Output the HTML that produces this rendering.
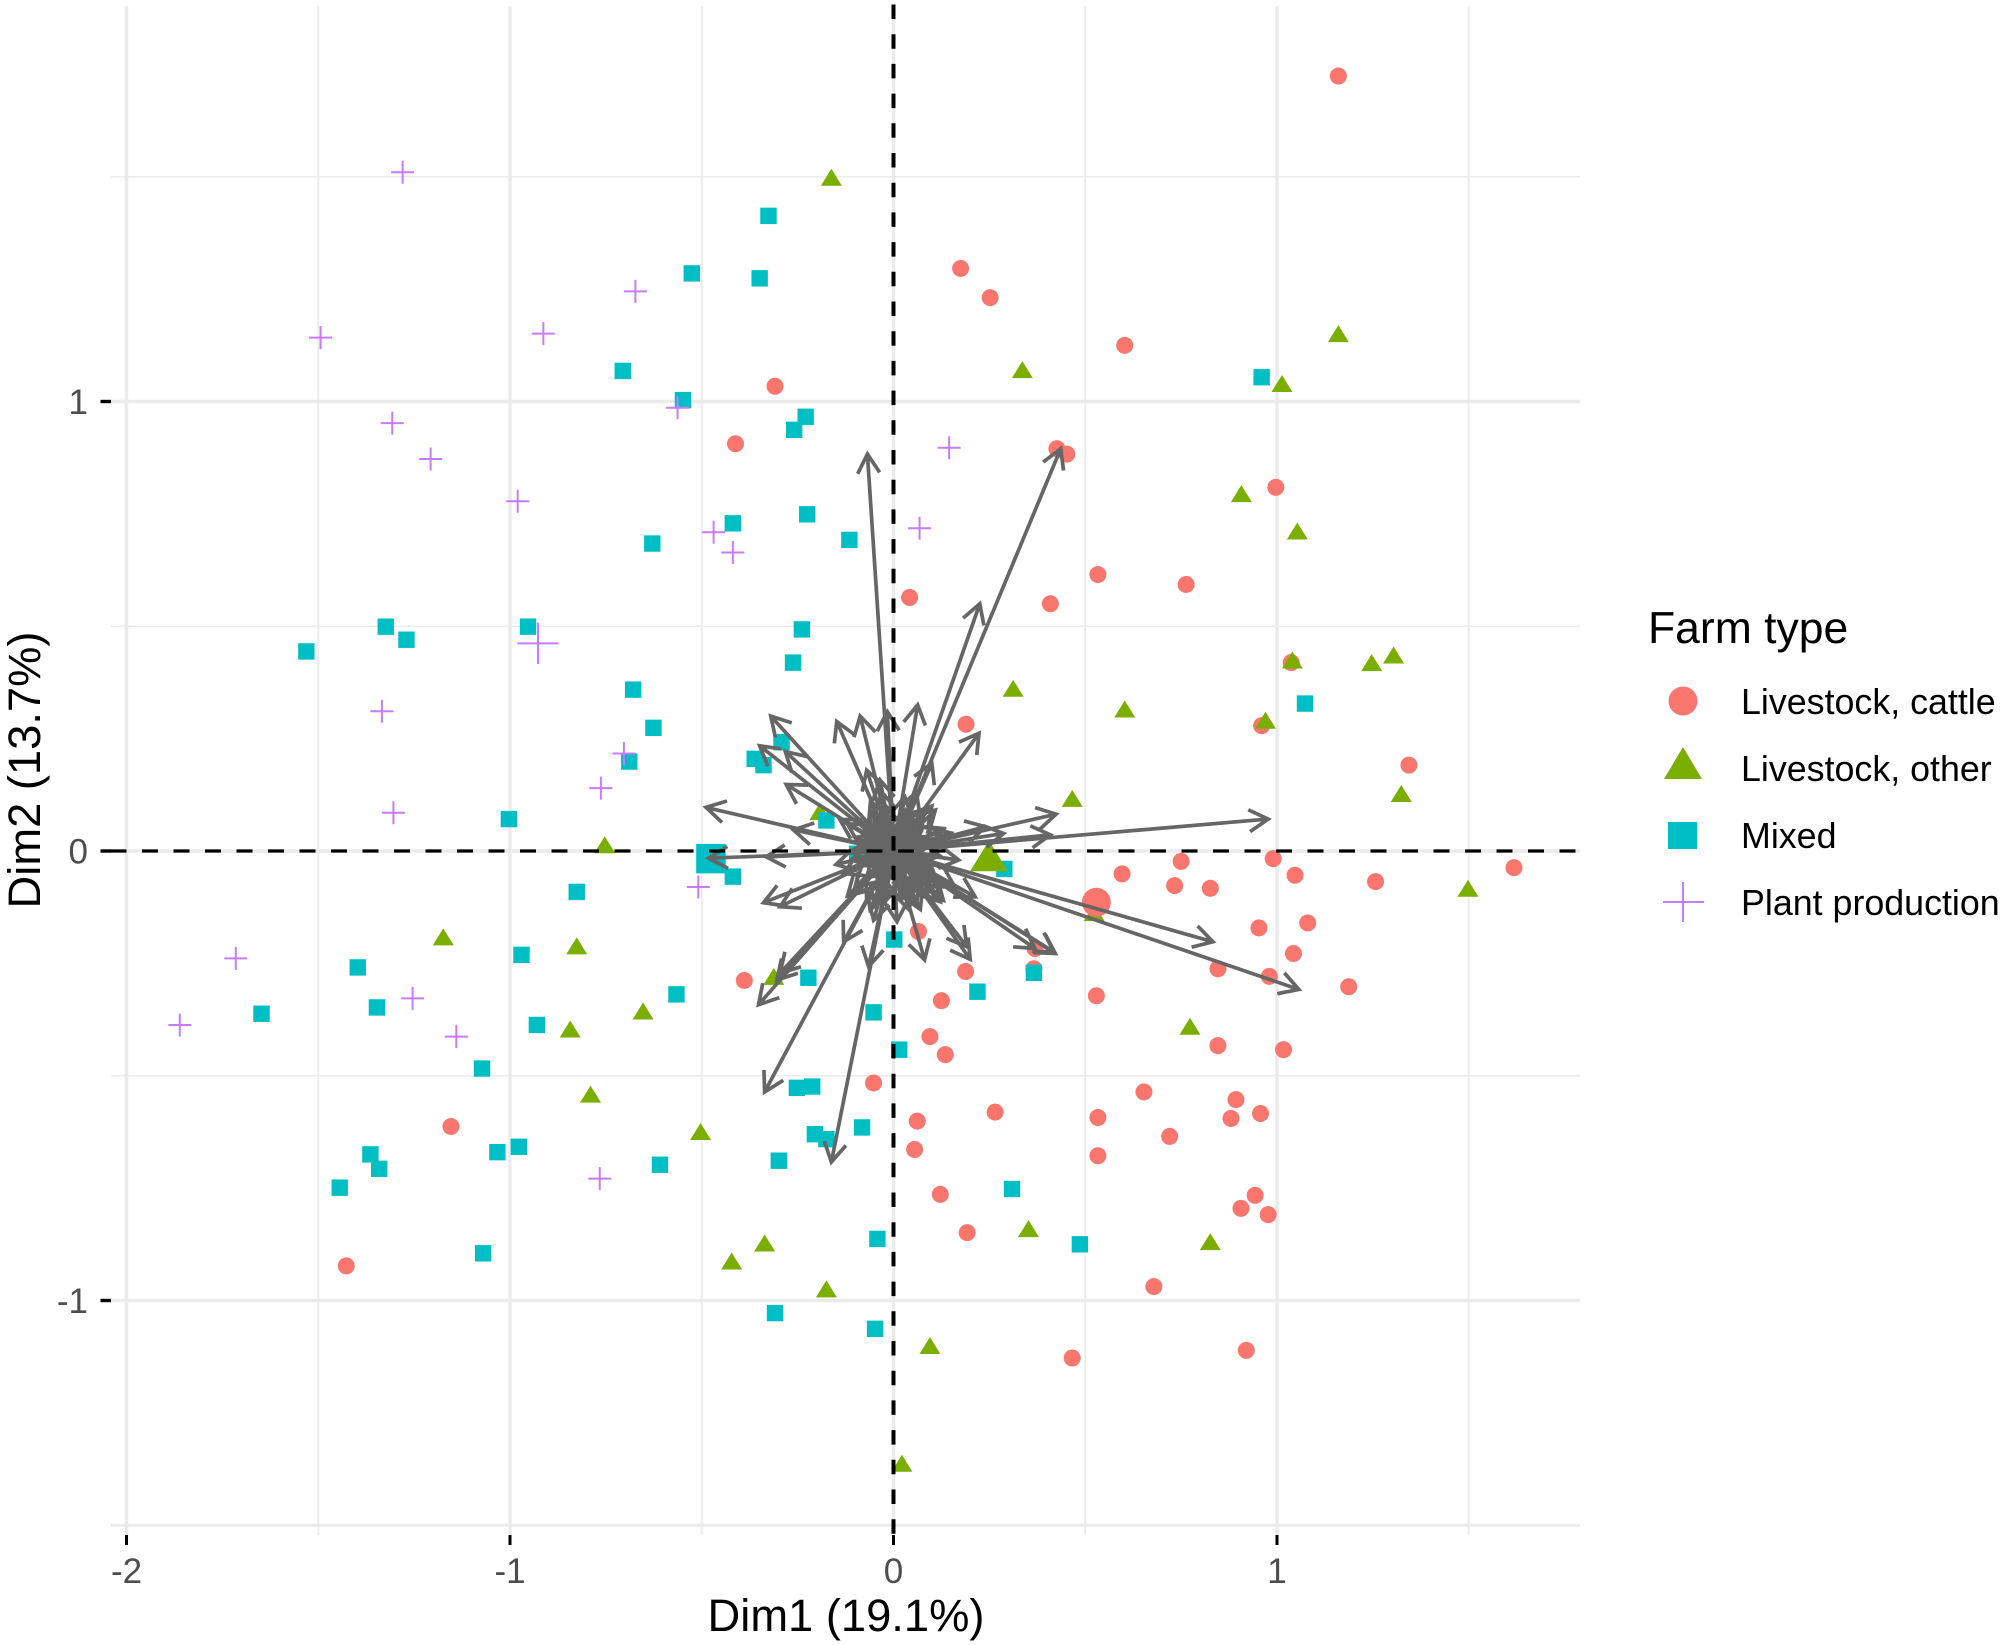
<!DOCTYPE html>
<html>
<head>
<meta charset="utf-8">
<title>Farm type biplot</title>
<style>
html,body{margin:0;padding:0;background:#fff;}
svg{display:block;font-family:"Liberation Sans",sans-serif;}
</style>
</head>
<body>
<svg id="chart" width="2008" height="1645" viewBox="0 0 2008 1645" xmlns="http://www.w3.org/2000/svg">
<rect width="2008" height="1645" fill="#fff"/>
<g id="grid"></g>
<g id="ticks"></g>
<g id="points"></g>
<g id="arrows"></g>
<g id="refs"></g>
<text x="846" y="1631" text-anchor="middle" font-size="45.3" fill="#000">Dim1 (19.1%)</text>
<text transform="translate(40,770) rotate(-90)" text-anchor="middle" font-size="45.3" fill="#000">Dim2 (13.7%)</text>
<g>
<text x="1648" y="643" font-size="44.5" fill="#000">Farm type</text>
<g>
<circle cx="1683" cy="701" r="14.5" fill="#F8766D"/>
<text x="1741" y="714" font-size="35.8" fill="#000">Livestock, cattle</text>
</g>
<g>
<polygon points="1683,747 1702,779 1664,779" fill="#7CAE00"/>
<text x="1741" y="781" font-size="35.8" fill="#000">Livestock, other</text>
</g>
<g>
<rect x="1668" y="822" width="29" height="27" fill="#00BFC4"/>
<text x="1741" y="848" font-size="35.8" fill="#000">Mixed</text>
</g>
<g>
<path d="M1663 902H1704M1683 882V922" stroke="#C77CFF" stroke-width="2" fill="none"/>
<text x="1741" y="915" font-size="35.8" fill="#000">Plant production</text>
</g>
</g>
</svg>
<script>
const xTicks = [-2, -1, 0, 1];
const yTicks = [-1, 0, 1];
const xMinor = [-1.5, -0.5, 0.5, 1.5];
const yMinor = [-1.5, -0.5, 0.5, 1.5];

const cattleDim1 = [1.16,.175,.252,.603,-.309,-.412,.426,.452,.997,.042,.533,.763,.409,.189,1.344,.96,1.037,.75,.596,.99,1.047,1.257,1.618,.733,.826,1.08,.953,1.043,.369,.846,.188,.366,.98,1.187,-.389,.529,.125,.065,.095,.135,.846,1.017,-.052,.653,.893,.265,.957,.88,.533,.062,.055,.72,.533,-1.154,.122,.943,.906,.977,.192,.679,-1.427,.466,.92];
const cattleDim2 = [1.724,1.296,1.231,1.125,1.034,.906,.895,.883,.809,.564,.615,.593,.55,.282,.191,.279,.419,-.023,-.051,-.017,-.054,-.068,-.037,-.077,-.083,-.16,-.171,-.228,-.217,-.262,-.268,-.262,-.279,-.302,-.288,-.322,-.333,-.179,-.413,-.453,-.433,-.442,-.516,-.536,-.553,-.581,-.584,-.595,-.593,-.601,-.664,-.635,-.678,-.613,-.764,-.766,-.795,-.809,-.849,-.969,-.923,-1.128,-1.111];

const otherDim1 = [-.162,1.16,.336,1.013,.907,1.053,1.304,1.247,1.04,.312,.603,.97,1.324,.466,-.192,-.753,1.498,.523,-1.174,-.826,-.312,-.653,-.843,.773,-.79,-.503,.352,-.336,.826,-.422,-.175,.095,.022];
const otherDim2 = [1.499,1.151,1.071,1.04,.795,.712,.436,.419,.425,.362,.316,.291,.128,.117,.088,.014,-.083,-.137,-.191,-.211,-.279,-.356,-.396,-.39,-.541,-.624,-.84,-.872,-.869,-.912,-.974,-1.1,-1.362];

const mixedDim1 = [-.326,-.526,-.349,-.706,-.549,.96,-.229,-.259,-.419,-.225,-.629,-.115,-1.324,-.953,-.239,-1.27,-1.531,-.262,-.679,1.073,-.626,-.292,-.362,-.339,-.689,-1.003,-.175,-.095,-.419,-.826,.289,.002,-.97,-1.397,.366,-.222,-.566,.219,-1.347,-1.648,-.052,-.93,.015,-1.073,-.252,-.212,-.205,-.175,-.082,-1.033,-.977,-1.364,-.299,-.609,-1.341,-1.444,.309,-.042,-1.07,.486,-.309,-.048];
const mixedDim2 = [1.413,1.285,1.274,1.068,1.003,1.054,.966,.937,.729,.749,.684,.692,.499,.499,.493,.47,.444,.419,.359,.328,.274,.242,.205,.191,.199,.071,.068,-.006,-.057,-.091,-.04,-.197,-.231,-.259,-.271,-.282,-.319,-.313,-.348,-.362,-.359,-.387,-.442,-.484,-.527,-.524,-.63,-.641,-.615,-.67,-.658,-.675,-.689,-.698,-.707,-.749,-.752,-.863,-.895,-.875,-1.028,-1.063];

const plantDim1 = [-1.28,-1.494,-.673,-.913,-1.307,-1.207,-.563,.145,-.98,-.469,.068,-.419,-1.334,-.703,-.763,-1.304,-.509,-1.715,-1.254,-1.861,-1.14,-.766];
const plantDim2 = [1.51,1.142,1.245,1.151,.952,.872,.986,.897,.778,.709,.718,.664,.311,.217,.14,.085,-.08,-.239,-.328,-.387,-.413,-.729];

const meanCattle = [0.529, -0.114];
const meanOther = [0.249, -0.011];
const meanMixed = [-0.476, -0.017];
const meanPlant = [-0.927, 0.462];

const arrowDim1 = [-.068,.436,.225,.223,.977,1.057,.833,.419,-.336,-.162,-.352,-.489,-.482,-.32,-.349,-.282,-.28,-.261,-.332,-.148,-.087,-.016,.063,.1,.109,.424,.409,.287,.239,.13,-.07,-.035,-.339,-.296,-.304,-.296,-.13,-.065,-.052,.009,.081,.2,.191,.369,.422,.213,.122,-.061,-.104,
 .09,.07,.05,.03,-.02,-.05,-.08,-.1,-.11,-.09,-.07,-.04,-.02,.02,.05,.08,.1,.12,.1,.07,.04,.02,-.03,-.06,-.09,-.11,.06,.09,-.07,.04,-.05,.11,.14,-.13,.03,-.03,.06,-.06,-.15,.16,
 .02,.04,.06,.05,.03,-.02,-.04,-.06,-.05,-.03,.01,.03,.07,.08,-.08,-.07,.09,-.09,.05,-.05,.13,-.12,.12,.1,-.1,.08,-.06,.04,-.03,.07,.15,-.14,.17,.13,-.12,.1];
const arrowDim2 = [.883,.895,.55,.262,.071,-.308,-.202,-.225,-.536,-.692,-.342,.097,-.016,.3,.234,.221,.148,.047,-.013,.288,.3,.31,.325,.195,.091,.082,.036,.039,.054,.047,.18,.158,-.115,-.124,-.287,-.272,-.202,-.257,-.154,-.157,-.242,-.241,-.213,-.217,-.228,-.102,-.113,-.131,-.094,
 .03,.06,.08,.09,.1,.08,.06,.03,0,-.03,-.06,-.08,-.1,-.11,-.09,-.07,-.04,-.01,.02,.04,.05,.06,.06,.05,.02,-.02,-.12,-.1,-.11,-.13,-.12,-.06,.03,-.05,.12,.13,.13,.11,-.03,-.08,
 .04,.03,.02,-.03,-.05,-.06,-.05,-.03,.03,.05,.06,.06,.04,-.05,.04,-.06,-.02,.01,.07,.07,.05,.06,-.08,-.09,-.08,.09,.09,-.1,-.12,-.13,.04,.07,-.02,-.11,-.1,.1];

const svgNS = "http://www.w3.org/2000/svg";
const sx = v => 893.5 + v * 383.5;
const sy = v => 851 - v * 449.5;
const panelLeft = 111, panelRight = 1580, panelTop = 6, panelBottom = 1535;
const grid = document.getElementById("grid");
const ticks = document.getElementById("ticks");
const points = document.getElementById("points");
const refs = document.getElementById("refs");
const arrows = document.getElementById("arrows");

function make(tag, parent, attrs) {
  const el = document.createElementNS(svgNS, tag);
  for (const k in attrs) el.setAttribute(k, attrs[k]);
  parent.appendChild(el);
  return el;
}

xMinor.forEach(v => {
  const el = make("line", grid, {x1: sx(v), x2: sx(v), y1: panelTop, y2: panelBottom, stroke: "#EBEBEB", "stroke-width": 1.8});
  
  
});
yMinor.forEach(v => {
  const el = make("line", grid, {x1: panelLeft, x2: panelRight, y1: sy(v), y2: sy(v), stroke: "#EBEBEB", "stroke-width": v === -1.5 ? 3 : 1.4});
  
  
});
xTicks.forEach(v => {
  const el = make("line", grid, {x1: sx(v), x2: sx(v), y1: panelTop, y2: panelBottom, stroke: "#EBEBEB", "stroke-width": 3.4});
  
  
  const t = make("line", ticks, {x1: sx(v), x2: sx(v), y1: panelBottom, y2: panelBottom + 10, stroke: "#000", "stroke-width": 3});
  
  
  const lab = make("text", ticks, {x: sx(v), y: 1583, "text-anchor": "middle", "font-size": 35, fill: "#4D4D4D"});
  
  
  lab.textContent = String(v);
});
yTicks.forEach(v => {
  const el = make("line", grid, {x1: panelLeft, x2: panelRight, y1: sy(v), y2: sy(v), stroke: "#EBEBEB", "stroke-width": 3.6});
  
  
  const t = make("line", ticks, {x1: panelLeft - 10.5, x2: panelLeft, y1: sy(v), y2: sy(v), stroke: "#000", "stroke-width": 3.4});
  
  
  const lab = make("text", ticks, {x: 88, y: sy(v) + 12.5, "text-anchor": "end", "font-size": 35, fill: "#4D4D4D"});
  
  
  lab.textContent = String(v);
});

function drawCircle(x, y, scale) {
  const el = make("circle", points, {cx: sx(x), cy: sy(y), r: 8.5 * scale, fill: "#F8766D"});
  
  
}
function drawTriangle(x, y, scale) {
  const cx = sx(x), cy = sy(y), w = 10.5 * scale, h = 8.5 * scale;
  const el = make("polygon", points, {points: `${cx},${cy - h} ${cx + w},${cy + h} ${cx - w},${cy + h}`, fill: "#7CAE00"});
  
  
}
function drawSquare(x, y, scale) {
  const s = 8.2 * scale;
  const el = make("rect", points, {x: sx(x) - s, y: sy(y) - s, width: 2 * s, height: 2 * s, fill: "#00BFC4"});
  
  
}
function drawPlus(x, y, scale) {
  const cx = sx(x), cy = sy(y), s = 11.5 * scale;
  const el = make("path", points, {d: `M${cx - s} ${cy}H${cx + s}M${cx} ${cy - s}V${cy + s}`, stroke: "#C77CFF", "stroke-width": 2, fill: "none"});
  
  
}
cattleDim1.forEach((v, i) => drawCircle(v, cattleDim2[i], 1));
otherDim1.forEach((v, i) => drawTriangle(v, otherDim2[i], 1));
mixedDim1.forEach((v, i) => drawSquare(v, mixedDim2[i], 1));
plantDim1.forEach((v, i) => drawPlus(v, plantDim2[i], 1));
drawCircle(meanCattle[0], meanCattle[1], 1.7);
drawTriangle(meanOther[0], meanOther[1], 1.8);
drawSquare(meanMixed[0], meanMixed[1], 1.8);
drawPlus(meanPlant[0], meanPlant[1], 1.8);

arrowDim1.forEach((v, i) => {
  const x0 = sx(0), y0 = sy(0), x1 = sx(v), y1 = sy(arrowDim2[i]);
  const a = Math.atan2(y1 - y0, x1 - x0), len = 22, spread = Math.PI / 6;
  const d = `M${x0} ${y0}L${x1} ${y1}M${x1 - len * Math.cos(a - spread)} ${y1 - len * Math.sin(a - spread)}L${x1} ${y1}L${x1 - len * Math.cos(a + spread)} ${y1 - len * Math.sin(a + spread)}`;
  const el = make("path", arrows, {d: d, stroke: "#666666", "stroke-width": 3.7, fill: "none"});
  
  
});

const hRef = make("line", refs, {x1: 110.5, x2: panelRight, y1: sy(0), y2: sy(0), stroke: "#000", "stroke-width": 3.2, "stroke-dasharray": "16 15.5"});


const vRef = make("line", refs, {x1: sx(0), x2: sx(0), y1: 4.5, y2: panelBottom, stroke: "#000", "stroke-width": 4, "stroke-dasharray": "14.5 15.2"});


</script>
</body>
</html>
